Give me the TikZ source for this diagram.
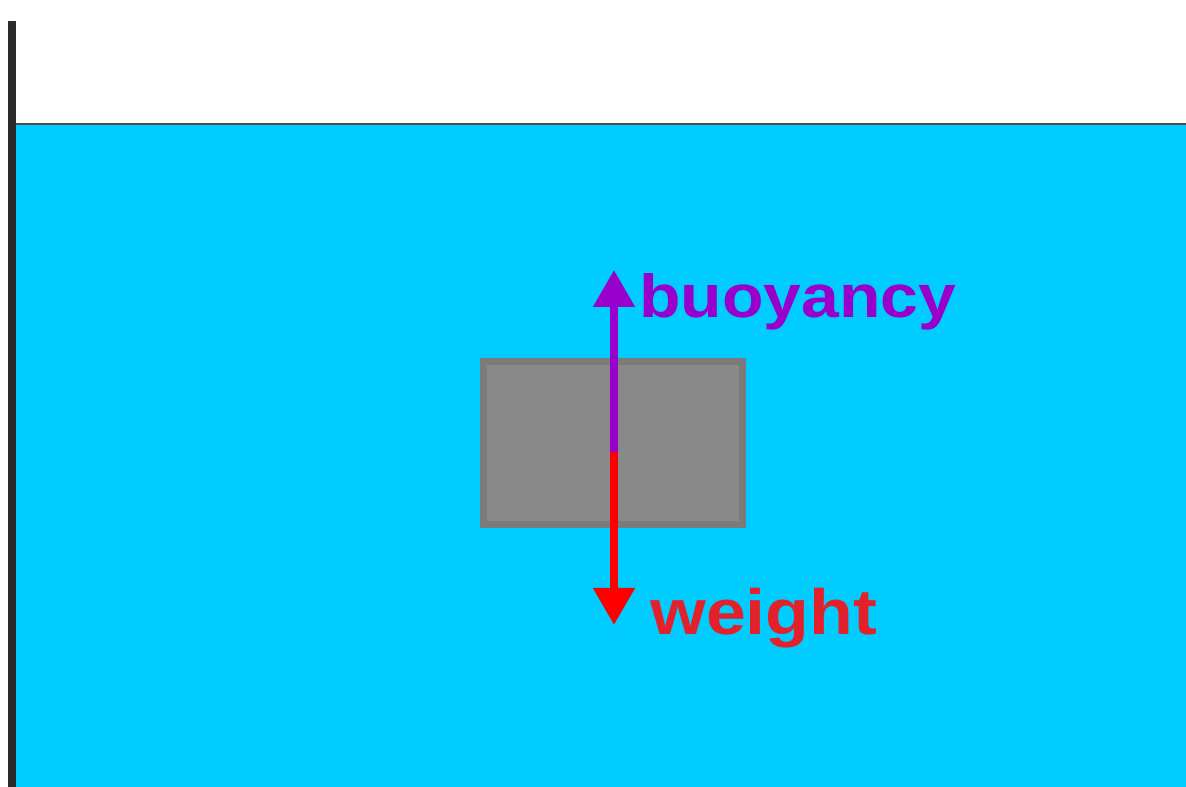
\documentclass[tikz,border=0pt]{standalone}
\usepackage{fontspec}
\newfontfamily\forcefont[FakeStretch=1.12]{Liberation Sans}
\usetikzlibrary{arrows.meta, positioning}

\definecolor{watercyan}{HTML}{00CCFF}
\definecolor{wallgray}{HTML}{2B2B2B}
\definecolor{surfacegray}{HTML}{4D4D4D}
\definecolor{blockfill}{HTML}{898989}
\definecolor{blockedge}{HTML}{7B7B7B}
\definecolor{buoypurple}{HTML}{9900CC}
\definecolor{weightred}{HTML}{FF0000}
\definecolor{labelred}{HTML}{E2212A}

\begin{document}
\begin{tikzpicture}[
            x=0.75pt, y=-0.75pt,
            block_style/.style={rectangle, draw=blockedge, fill=blockfill, line width=5.25pt, minimum width=194.25pt, minimum height=122.25pt, inner sep=0pt},
            force/.style={line width=6pt, -{Triangle[width=30pt, length=27.75pt]}},
            label_style/.style={anchor=base west, inner sep=0pt, font=\forcefont\bfseries\fontsize{#1}{#1}\selectfont}
        ]

        % Rahmen
        \useasboundingbox (0,0) rectangle (1186,787);

        % Wasser und Wand
        \fill [watercyan] (16,124) rectangle (1186,787);
        \draw [surfacegray, line width=1.5pt] (16,124) -- (1186,124);
        \draw [wallgray, line width=6pt] (12,21) -- (12,787);

        % Block
        \node (block) [block_style] at (613,443) {};
        \coordinate (center) at (614,452);
        \coordinate (buoytip) at (614,270);
        \coordinate (weighttip) at (614,625);

        % Kraefte
        \draw [force, weightred] (center) -- (weighttip);
        \draw [force, buoypurple] (center) -- (buoytip);

        % Beschriftungen
        \node (buoylabel) [label_style=45.5, text=buoypurple] at (639,318) {buoyancy};
        \node (weightlabel) [label_style=48, text=labelred] at (650,635) {weight};

    \end{tikzpicture}
\end{document}
